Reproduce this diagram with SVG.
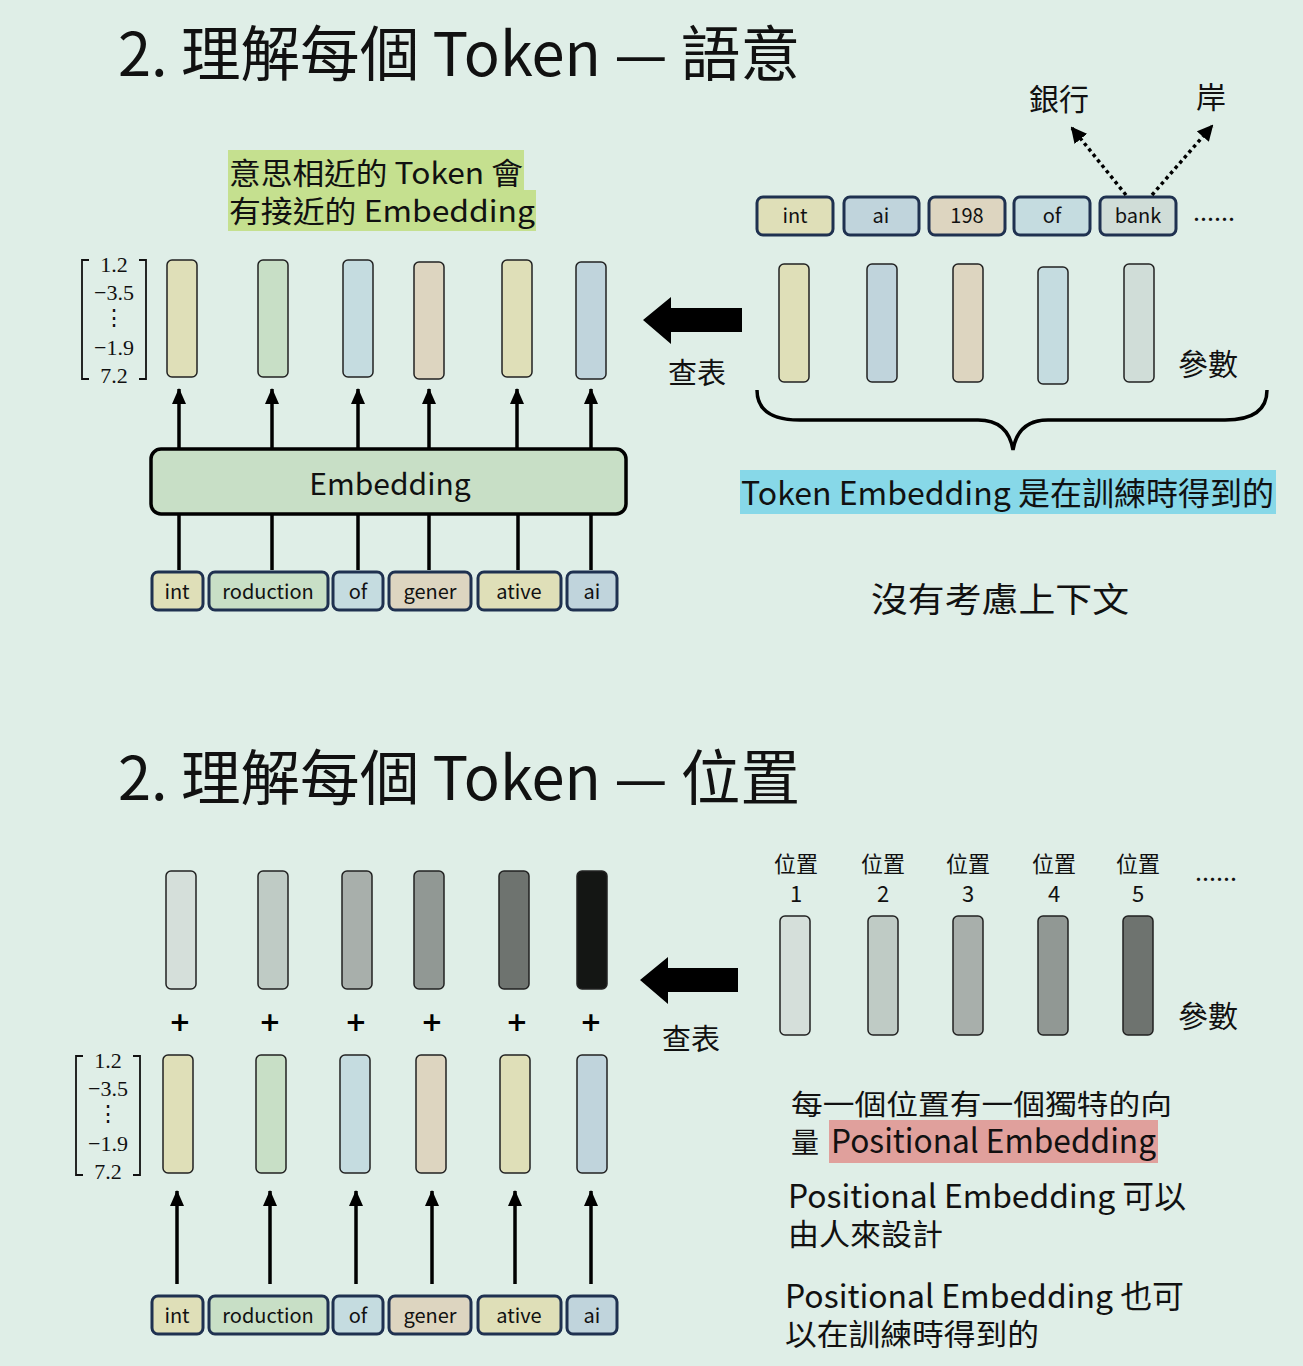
<svg xmlns="http://www.w3.org/2000/svg" width="1303" height="1366" viewBox="0 0 1303 1366">
<defs>
<marker id="ah" markerUnits="userSpaceOnUse" markerWidth="16" markerHeight="14" viewBox="0 0 16 14" refX="15" refY="7" orient="auto">
<path d="M0,0 L16,7 L0,14 Z" fill="#000"/>
</marker>
<marker id="ahd" markerUnits="userSpaceOnUse" markerWidth="16" markerHeight="16" viewBox="0 0 16 16" refX="14" refY="8" orient="auto">
<path d="M0,0 L16,8 L0,16 Z" fill="#000"/>
</marker>
<style>
.bar{stroke:#222;stroke-width:1.5}
.tok{stroke:#1F3150;stroke-width:3}
.tt{font-family:"Noto Sans CJK TC","Open Sans",sans-serif;font-size:20px;fill:#111;text-anchor:middle}
.cj{font-family:"Noto Sans CJK TC","Noto Sans",sans-serif;fill:#111}
.num{font-family:"Liberation Serif",serif;font-size:22px;fill:#111;text-anchor:middle}
.ln{stroke:#000;stroke-width:3.5;fill:none}
.y{fill:#DFDFB8}.g{fill:#C8DFC6}.b{fill:#C5DCE0}.t{fill:#DDD5C0}.bg{fill:#C0D4DC}.gg{fill:#D0DDD8}
.p1{fill:#D5DFDA}.p2{fill:#BFCBC5}.p3{fill:#A8AFAB}.p4{fill:#919894}.p5{fill:#6E736F}.p6{fill:#141614}
</style>
</defs>
<rect width="1303" height="1366" fill="#DFEEE7"/>

<!-- Titles -->
<g id="title1"><text class="cj" x="118" y="76" font-size="60" textLength="682" lengthAdjust="spacingAndGlyphs">2. 理解每個 Token — 語意</text></g>
<g id="title2"><text class="cj" x="118" y="800" font-size="60" textLength="682" lengthAdjust="spacingAndGlyphs">2. 理解每個 Token — 位置</text></g>

<!-- Section 1 -->
<g id="note-similar">
<rect x="228" y="150" width="296" height="41" fill="#C5E08F"/>
<rect x="228" y="190" width="308" height="41" fill="#C5E08F"/>
<text class="cj" x="229" y="184" font-size="30" textLength="294" lengthAdjust="spacingAndGlyphs">意思相近的 Token 會</text>
<text class="cj" x="229" y="222" font-size="30" textLength="306" lengthAdjust="spacingAndGlyphs">有接近的 Embedding</text>
</g>

<g id="matrix1">
<path d="M89,260 L82,260 L82,379 L89,379 M139,260 L146,260 L146,379 L139,379" fill="none" stroke="#111" stroke-width="1.8"/>
<text class="num" x="114" y="272">1.2</text>
<text class="num" x="114" y="300">−3.5</text>
<text class="num" x="114" y="325">⋮</text>
<text class="num" x="114" y="355">−1.9</text>
<text class="num" x="114" y="383">7.2</text>
</g>

<g id="vec-top">
<rect class="bar y" x="167" y="260" width="30" height="117" rx="5"/>
<rect class="bar g" x="258" y="260" width="30" height="117" rx="5"/>
<rect class="bar b" x="343" y="260" width="30" height="117" rx="5"/>
<rect class="bar t" x="414" y="262" width="30" height="117" rx="5"/>
<rect class="bar y" x="502" y="260" width="30" height="117" rx="5"/>
<rect class="bar bg" x="576" y="262" width="30" height="117" rx="5"/>
</g>

<g id="embedding-box">
<rect x="151" y="449" width="475" height="65" rx="10" fill="#C8DFC6" stroke="#000" stroke-width="3.5"/>
<text class="cj" x="390" y="495" font-size="30" text-anchor="middle">Embedding</text>
</g>

<g id="tokens-top">
<rect class="tok y" x="152" y="572" width="51" height="38" rx="6"/><text class="tt" x="177" y="599">int</text>
<rect class="tok g" x="209" y="572" width="119" height="38" rx="6"/><text class="tt" x="268" y="599">roduction</text>
<rect class="tok b" x="333" y="572" width="50" height="38" rx="6"/><text class="tt" x="358" y="599">of</text>
<rect class="tok t" x="389" y="572" width="82" height="38" rx="6"/><text class="tt" x="430" y="599">gener</text>
<rect class="tok y" x="478" y="572" width="83" height="38" rx="6"/><text class="tt" x="519" y="599">ative</text>
<rect class="tok bg" x="567" y="572" width="50" height="38" rx="6"/><text class="tt" x="592" y="599">ai</text>
</g>

<g id="lookup1">
<path d="M643,320 L671,297 L671,308 L742,308 L742,332 L671,332 L671,344 Z" fill="#000"/>
<text class="cj" x="668" y="384" font-size="29">查表</text>
</g>

<g id="vocab-tokens">
<rect class="tok y" x="757" y="197" width="76" height="38" rx="6"/><text class="tt" x="795" y="223">int</text>
<rect class="tok bg" x="844" y="197" width="75" height="38" rx="6"/><text class="tt" x="881" y="223">ai</text>
<rect class="tok t" x="929" y="197" width="76" height="38" rx="6"/><text class="tt" x="967" y="223">198</text>
<rect class="tok b" x="1014" y="197" width="76" height="38" rx="6"/><text class="tt" x="1052" y="223">of</text>
<rect class="tok gg" x="1100" y="197" width="76" height="38" rx="6"/><text class="tt" x="1138" y="223">bank</text>
<text class="cj" x="1193" y="221" font-size="24" textLength="42" lengthAdjust="spacingAndGlyphs">......</text>
</g>

<g id="bank-meanings">
<text class="cj" x="1029" y="110" font-size="30">銀行</text>
<text class="cj" x="1196" y="108" font-size="30">岸</text>
</g>

<g id="vocab-vectors">
<rect class="bar y" x="779" y="264" width="30" height="118" rx="5"/>
<rect class="bar bg" x="867" y="264" width="30" height="118" rx="5"/>
<rect class="bar t" x="953" y="264" width="30" height="118" rx="5"/>
<rect class="bar b" x="1038" y="267" width="30" height="117" rx="5"/>
<rect class="bar gg" x="1124" y="264" width="30" height="118" rx="5"/>
<text class="cj" x="1178" y="375" font-size="30">參數</text>
</g>

<g id="brace-note">
<path class="ln" d="M757,390 Q757,420 800,420 L978,420 Q1008,420 1013,450 Q1018,420 1048,420 L1225,420 Q1267,420 1267,390"/>
<rect x="740" y="470" width="536" height="44" fill="#87D8E8"/>
<text class="cj" x="741" y="505" font-size="32" textLength="533" lengthAdjust="spacingAndGlyphs">Token Embedding 是在訓練時得到的</text>
<text class="cj" x="871" y="612" font-size="34" textLength="258" lengthAdjust="spacingAndGlyphs">沒有考慮上下文</text>
</g>

<!-- Section 2 -->
<g id="matrix2">
<path d="M83,1056 L76,1056 L76,1175 L83,1175 M133,1056 L140,1056 L140,1175 L133,1175" fill="none" stroke="#111" stroke-width="1.8"/>
<text class="num" x="108" y="1068">1.2</text>
<text class="num" x="108" y="1096">−3.5</text>
<text class="num" x="108" y="1121">⋮</text>
<text class="num" x="108" y="1151">−1.9</text>
<text class="num" x="108" y="1179">7.2</text>
</g>

<g id="pos-vec-left">
<rect class="bar p1" x="166" y="871" width="30" height="118" rx="5"/>
<rect class="bar p2" x="258" y="871" width="30" height="118" rx="5"/>
<rect class="bar p3" x="342" y="871" width="30" height="118" rx="5"/>
<rect class="bar p4" x="414" y="871" width="30" height="118" rx="5"/>
<rect class="bar p5" x="499" y="871" width="30" height="118" rx="5"/>
<rect class="bar p6" x="577" y="871" width="30" height="118" rx="5"/>
</g>

<g id="plus-signs" font-family="'DejaVu Sans',sans-serif" font-size="26" font-weight="bold" text-anchor="middle" fill="#000">
<text x="180" y="1031">+</text>
<text x="270" y="1031">+</text>
<text x="356" y="1031">+</text>
<text x="432" y="1031">+</text>
<text x="517" y="1031">+</text>
<text x="591" y="1031">+</text>
</g>

<g id="tok-vec-left">
<rect class="bar y" x="163" y="1055" width="30" height="118" rx="5"/>
<rect class="bar g" x="256" y="1055" width="30" height="118" rx="5"/>
<rect class="bar b" x="340" y="1055" width="30" height="118" rx="5"/>
<rect class="bar t" x="416" y="1055" width="30" height="118" rx="5"/>
<rect class="bar y" x="500" y="1055" width="30" height="118" rx="5"/>
<rect class="bar bg" x="577" y="1055" width="30" height="118" rx="5"/>
</g>

<g id="tokens-bottom">
<rect class="tok y" x="152" y="1296" width="51" height="38" rx="6"/><text class="tt" x="177" y="1323">int</text>
<rect class="tok g" x="209" y="1296" width="119" height="38" rx="6"/><text class="tt" x="268" y="1323">roduction</text>
<rect class="tok b" x="333" y="1296" width="50" height="38" rx="6"/><text class="tt" x="358" y="1323">of</text>
<rect class="tok t" x="389" y="1296" width="82" height="38" rx="6"/><text class="tt" x="430" y="1323">gener</text>
<rect class="tok y" x="478" y="1296" width="83" height="38" rx="6"/><text class="tt" x="519" y="1323">ative</text>
<rect class="tok bg" x="567" y="1296" width="50" height="38" rx="6"/><text class="tt" x="592" y="1323">ai</text>
</g>

<g id="lookup2">
<path d="M640,980 L668,957 L668,968 L738,968 L738,992 L668,992 L668,1004 Z" fill="#000"/>
<text class="cj" x="662" y="1050" font-size="29">查表</text>
</g>

<g id="pos-table">
<g class="cj" font-size="22" text-anchor="middle">
<text x="796" y="872">位置</text><text x="796" y="902">1</text>
<text x="883" y="872">位置</text><text x="883" y="902">2</text>
<text x="968" y="872">位置</text><text x="968" y="902">3</text>
<text x="1054" y="872">位置</text><text x="1054" y="902">4</text>
<text x="1138" y="872">位置</text><text x="1138" y="902">5</text>
</g>
<text class="cj" x="1195" y="881" font-size="24" textLength="42" lengthAdjust="spacingAndGlyphs">......</text>
<rect class="bar p1" x="780" y="916" width="30" height="119" rx="5"/>
<rect class="bar p2" x="868" y="916" width="30" height="119" rx="5"/>
<rect class="bar p3" x="953" y="916" width="30" height="119" rx="5"/>
<rect class="bar p4" x="1038" y="916" width="30" height="119" rx="5"/>
<rect class="bar p5" x="1123" y="916" width="30" height="119" rx="5"/>
<text class="cj" x="1178" y="1027" font-size="30">參數</text>
</g>

<g id="pos-notes">
<text class="cj" x="791" y="1115" font-size="28" textLength="381" lengthAdjust="spacingAndGlyphs">每一個位置有一個獨特的向</text>
<rect x="829" y="1120" width="329" height="43" fill="#E0A09C"/>
<text class="cj" x="791" y="1153" font-size="28">量</text>
<text class="cj" x="831" y="1153" font-size="33" textLength="325" lengthAdjust="spacingAndGlyphs">Positional Embedding</text>
<text class="cj" x="788" y="1208" font-size="32" textLength="398" lengthAdjust="spacingAndGlyphs">Positional Embedding 可以</text>
<text class="cj" x="788" y="1245" font-size="30" textLength="155" lengthAdjust="spacingAndGlyphs">由人來設計</text>
<text class="cj" x="785" y="1308" font-size="32" textLength="399" lengthAdjust="spacingAndGlyphs">Positional Embedding 也可</text>
<text class="cj" x="785" y="1345" font-size="30" textLength="254" lengthAdjust="spacingAndGlyphs">以在訓練時得到的</text>
</g>

<!-- Connectors -->
<g id="connectors" stroke="#000" stroke-width="3.5" fill="none">
<line x1="179" y1="448" x2="179" y2="389" marker-end="url(#ah)"/>
<line x1="272" y1="448" x2="272" y2="389" marker-end="url(#ah)"/>
<line x1="358" y1="448" x2="358" y2="389" marker-end="url(#ah)"/>
<line x1="429" y1="448" x2="429" y2="389" marker-end="url(#ah)"/>
<line x1="517" y1="448" x2="517" y2="389" marker-end="url(#ah)"/>
<line x1="591" y1="448" x2="591" y2="389" marker-end="url(#ah)"/>
<line x1="179" y1="515" x2="179" y2="570"/>
<line x1="272" y1="515" x2="272" y2="570"/>
<line x1="358" y1="515" x2="358" y2="570"/>
<line x1="429" y1="515" x2="429" y2="570"/>
<line x1="518" y1="515" x2="518" y2="570"/>
<line x1="591" y1="515" x2="591" y2="570"/>
<line x1="1126" y1="195" x2="1072" y2="128" stroke-dasharray="3.5 3.5" marker-end="url(#ahd)"/>
<line x1="1152" y1="195" x2="1212" y2="126" stroke-dasharray="3.5 3.5" marker-end="url(#ahd)"/>
<line x1="177" y1="1284" x2="177" y2="1191" marker-end="url(#ah)"/>
<line x1="270" y1="1284" x2="270" y2="1191" marker-end="url(#ah)"/>
<line x1="356" y1="1284" x2="356" y2="1191" marker-end="url(#ah)"/>
<line x1="432" y1="1284" x2="432" y2="1191" marker-end="url(#ah)"/>
<line x1="515" y1="1284" x2="515" y2="1191" marker-end="url(#ah)"/>
<line x1="591" y1="1284" x2="591" y2="1191" marker-end="url(#ah)"/>
</g>
</svg>
